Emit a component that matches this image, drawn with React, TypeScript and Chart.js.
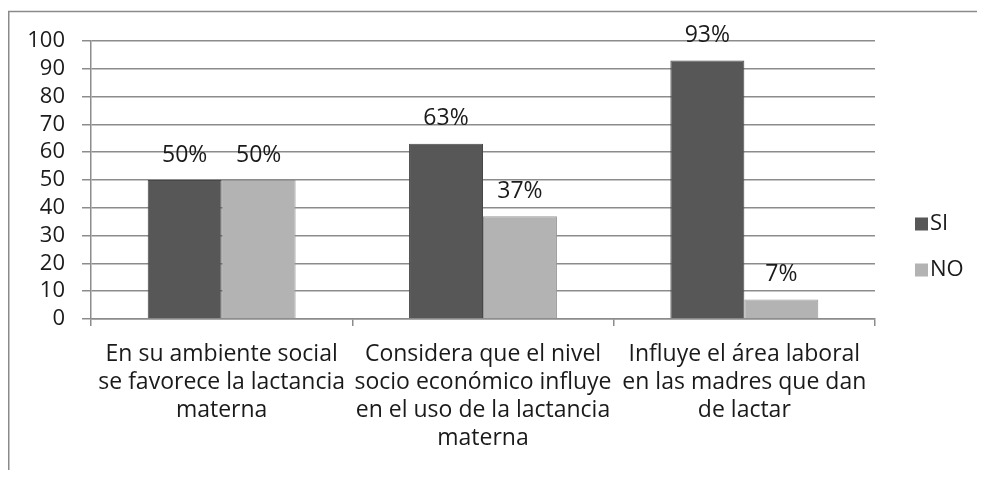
import React, { useEffect, useRef } from "react";
import { Chart, registerables } from "chart.js";

Chart.register(...registerables);

const categories: string[][] = [
  ["En su ambiente social", "se favorece la lactancia", "materna"],
  ["Considera que el nivel", "socio económico influye", "en el uso de la lactancia", "materna"],
  ["Influye el área laboral", "en las madres que dan", "de lactar"],
];
const seriesNames = ["SI", "NO"];
const siValues = [50, 63, 93];
const noValues = [50, 37, 7];
const siLabels = ["50%", "63%", "93%"];
const noLabels = ["50%", "37%", "7%"];

const FONT = "'Open Sans', 'Liberation Sans', sans-serif";
const FS = 23;
const SI_COLOR = "#575757";
const NO_COLOR = "#b3b3b3";
const GRID = "#8c8c8c";

export default function App() {
  const ref = useRef<HTMLCanvasElement | null>(null);

  useEffect(() => {
    if (!ref.current) return;
    const labelSets = [siLabels, noLabels];

    const framePlugin = {
      id: "frame",
      beforeDraw(chart: any) {
        const ctx = chart.ctx;
        ctx.save();
        ctx.fillStyle = "#ffffff";
        ctx.fillRect(0, 0, chart.width, chart.height);
        ctx.strokeStyle = "#8a8a8a";
        ctx.lineWidth = 1.5;
        ctx.beginPath();
        ctx.moveTo(0.75, chart.height);
        ctx.lineTo(0.75, 3.5);
        ctx.lineTo(chart.width, 3.5);
        ctx.stroke();
        ctx.restore();
      },
    };

    const valueLabels = {
      id: "valueLabels",
      afterDatasetsDraw(chart: any) {
        const ctx = chart.ctx;
        ctx.save();
        ctx.font = `${FS}px ${FONT}`;
        ctx.fillStyle = "#1a1a1a";
        ctx.textAlign = "center";
        ctx.textBaseline = "middle";
        chart.data.datasets.forEach((ds: any, di: number) => {
          const meta = chart.getDatasetMeta(di);
          meta.data.forEach((bar: any, i: number) => {
            ctx.fillText(labelSets[di][i], bar.x, bar.y - 25);
          });
        });
        ctx.restore();
      },
    };

    const legendPlugin = {
      id: "customLegend",
      afterDraw(chart: any) {
        const ctx = chart.ctx;
        ctx.save();
        ctx.font = `${FS - 1}px ${FONT}`;
        ctx.textBaseline = "middle";
        ctx.textAlign = "left";
        const items = [
          { text: seriesNames[0], color: SI_COLOR, y: 216 },
          { text: seriesNames[1], color: NO_COLOR, y: 262 },
        ];
        items.forEach((it) => {
          ctx.fillStyle = it.color;
          ctx.fillRect(907, it.y - 6.5, 13, 13);
          ctx.fillStyle = "#1a1a1a";
          ctx.fillText(it.text, 922, it.y);
        });
        ctx.restore();
      },
    };

    const chart = new Chart(ref.current, {
      type: "bar",
      data: {
        labels: categories,
        datasets: [
          {
            label: seriesNames[0],
            data: siValues,
            backgroundColor: SI_COLOR,
            borderColor: "#474747",
            borderWidth: 1,
          },
          {
            label: seriesNames[1],
            data: noValues,
            backgroundColor: NO_COLOR,
            borderColor: "#999999",
            borderWidth: 1,
          },
        ],
      },
      options: {
        animation: false,
        responsive: true,
        maintainAspectRatio: false,
        layout: { padding: { top: 33, right: 102, left: 0, bottom: 0 } },
        datasets: {
          bar: { categoryPercentage: 0.566, barPercentage: 1 },
        },
        plugins: {
          legend: { display: false },
          tooltip: { enabled: false },
        },
        scales: {
          x: {
            afterFit(scale: any) {
              scale.height = 151;
            },
            grid: {
              display: true,
              drawOnChartArea: false,
              drawTicks: true,
              tickLength: 7,
              color: GRID,
              lineWidth: 1.5,
              offset: true,
            },
            border: { display: true, color: GRID, width: 1.5 },
            ticks: {
              color: "#1a1a1a",
              padding: 14,
              maxRotation: 0,
              autoSkip: false,
              font: { family: FONT, size: FS, lineHeight: 28 / FS },
            },
          },
          y: {
            min: 0,
            max: 100,
            afterFit(scale: any) {
              scale.width = 83;
            },
            grid: {
              color: GRID,
              lineWidth: 1.5,
              drawTicks: true,
              tickLength: 9,
            },
            border: { display: true, color: GRID, width: 1.5 },
            ticks: {
              stepSize: 10,
              autoSkip: false,
              color: "#1a1a1a",
              padding: 17,
              font: { family: FONT, size: FS - 1 },
            },
          },
        },
      },
      plugins: [framePlugin, valueLabels, legendPlugin],
    });

    return () => chart.destroy();
  }, []);

  return (
    <div style={{ width: 969, height: 462, position: "relative" }}>
      <canvas ref={ref} />
    </div>
  );
}
